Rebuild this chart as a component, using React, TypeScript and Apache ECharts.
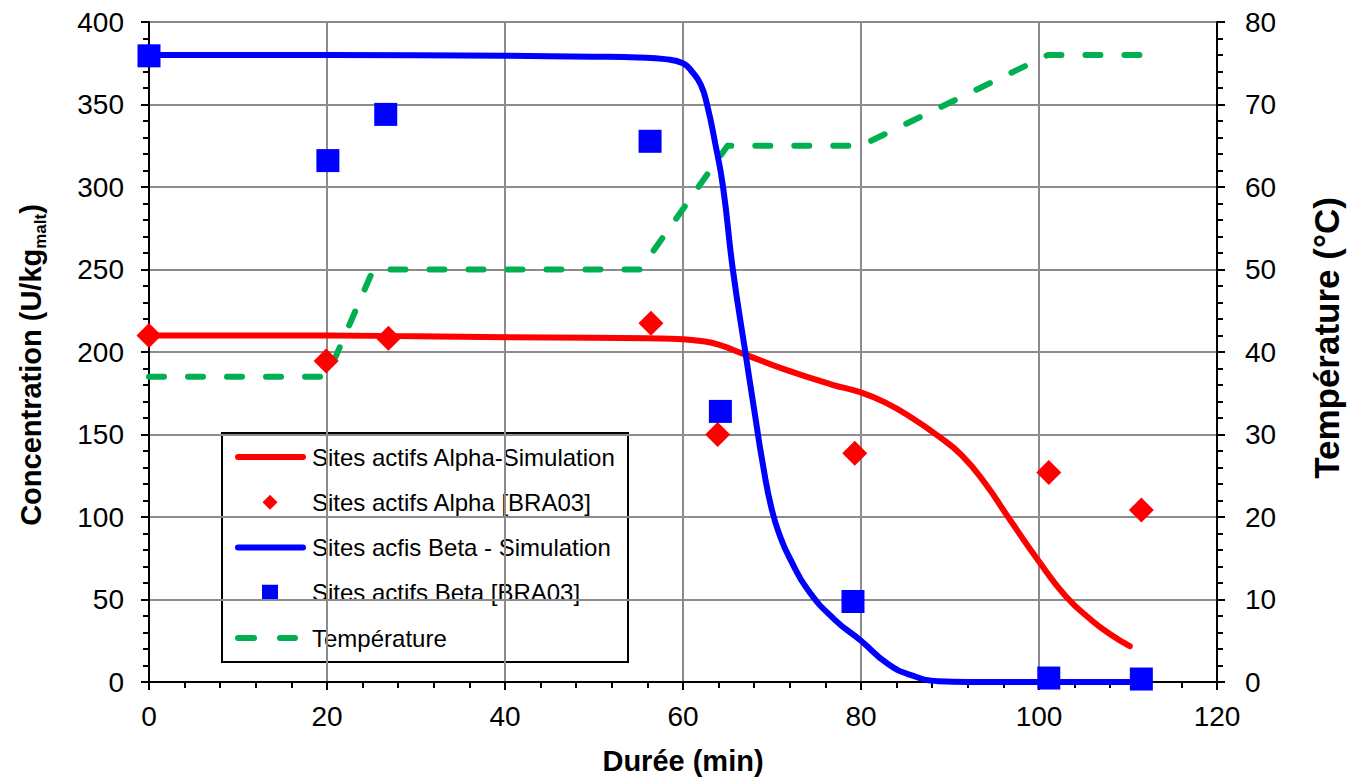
import React, { useEffect, useRef } from "react";
import * as echarts from "echarts";

// Simulation curves (time in min, concentration U/kg)
const alphaSimT = [0, 10, 20, 30, 40, 50, 56, 60, 62, 64, 67, 71.5, 76.7, 80, 82.7, 85.7, 88.7, 91.3, 94, 96.4, 100, 103, 106, 108, 110.2];
const alphaSimC = [210, 210, 210, 209.5, 209, 208.7, 208.3, 207.8, 206.7, 204.4, 198.4, 189.3, 180.3, 175.5, 169.5, 160.2, 149, 137.5, 120, 101, 73, 52, 37, 29, 21.7];

const betaSimT = [0, 20, 40, 50, 55, 58, 60, 61, 62, 62.7, 63.6, 64.5, 65.6, 67, 68, 69, 70, 71, 72, 74, 77, 80, 83, 85.7, 88.7, 92, 100, 111];
const betaSimC = [380, 380, 379.5, 379, 378.5, 377.5, 375, 370, 362, 350, 327, 300, 250, 200, 165, 131, 104, 87, 75, 56, 38, 25, 11, 4, 0.5, 0, 0, 0];

// Experimental data [BRA03]
const alphaExpT = [0, 19.9, 26.9, 56.4, 63.9, 79.3, 101.1, 111.5];
const alphaExpC = [210, 194.6, 208.4, 217.5, 150, 138.7, 127, 104.2];

const betaExpT = [0, 20.1, 26.6, 56.3, 64.2, 79.1, 101.1, 111.5];
const betaExpC = [379.5, 316, 344, 327.7, 164, 48.8, 2.4, 1.8];

// Temperature profile (°C)
const tempT = [0, 20, 25.2, 55.2, 65, 80, 101, 111.5];
const tempV = [37, 37, 50, 50, 65, 65, 76, 76];

const xTicks = { min: 0, max: 120, interval: 20 };
const yLeft = { min: 0, max: 400, interval: 50 };
const yRight = { min: 0, max: 80, interval: 10 };

const names = [
  "Sites actifs Alpha-Simulation",
  "Sites actifs Alpha [BRA03]",
  "Sites acfis Beta - Simulation",
  "Sites actifs Beta [BRA03]",
  "Température",
];

const RED = "#ff0000";
const BLUE = "#0000ff";
const GREEN = "#00b050";

const zip = (a: number[], b: number[]) => a.map((v, i) => [v, b[i]]);

const FONT = "Arial, 'Liberation Sans', sans-serif";

function legendGraphic() {
  const left = 222;
  const top = 433;
  const w = 406;
  const h = 229;
  const rowY = (i: number) => 457 + i * 45.25;
  const iconL = 238;
  const iconR = 303;
  const iconC = 270;
  const children: any[] = [
    { type: "rect", shape: { x: left, y: top, width: w, height: h }, style: { fill: "#fff", stroke: "#000", lineWidth: 2 } },
    { type: "line", shape: { x1: iconL, y1: rowY(0), x2: iconR, y2: rowY(0) }, style: { stroke: RED, lineWidth: 6, lineCap: "round" } },
    {
      type: "polygon",
      shape: { points: [[iconC, rowY(1) - 7.5], [iconC + 7.5, rowY(1)], [iconC, rowY(1) + 7.5], [iconC - 7.5, rowY(1)]] },
      style: { fill: RED },
    },
    { type: "line", shape: { x1: iconL, y1: rowY(2), x2: iconR, y2: rowY(2) }, style: { stroke: BLUE, lineWidth: 6, lineCap: "round" } },
    { type: "rect", shape: { x: iconC - 8, y: rowY(3) - 8, width: 16, height: 16 }, style: { fill: BLUE } },
    { type: "line", shape: { x1: 238, y1: rowY(4), x2: 254, y2: rowY(4) }, style: { stroke: GREEN, lineWidth: 6, lineCap: "round" } },
    { type: "line", shape: { x1: 280, y1: rowY(4), x2: 295, y2: rowY(4) }, style: { stroke: GREEN, lineWidth: 6, lineCap: "round" } },
  ];
  names.forEach((n, i) => {
    children.push({
      type: "text",
      x: 312,
      y: rowY(i),
      style: { text: n, fill: "#000", font: `24px ${FONT}`, fontSize: 24, fontFamily: FONT, verticalAlign: "middle", align: "left" },
    });
  });
  return [{ type: "group", z: 100, children }];
}

export default function App() {
  const ref = useRef<HTMLDivElement>(null);
  useEffect(() => {
    if (!ref.current) return;
    const chart = echarts.init(ref.current, undefined, { renderer: "svg" });
    const axisLineStyle = { color: "#000", width: 2 };
    const tickCommon = {
      axisLine: { show: true, onZero: false, lineStyle: axisLineStyle },
      axisTick: { show: true, inside: false, length: 8, lineStyle: { color: "#000", width: 2 } },
      minorTick: { show: true, splitNumber: 5, length: 6, lineStyle: { color: "#000", width: 2 } },
      axisLabel: { color: "#000", fontSize: 28, fontFamily: FONT },
    };
    chart.setOption({
      animation: false,
      backgroundColor: "#fff",
      textStyle: { fontFamily: FONT },
      grid: { left: 149, right: 142, top: 22, bottom: 94, containLabel: false },
      legend: { show: false },
      graphic: legendGraphic(),
      xAxis: {
        type: "value",
        ...xTicks,
        ...tickCommon,
        axisLabel: { ...tickCommon.axisLabel, margin: 20 },
        splitLine: { show: true, lineStyle: { color: "#8c8c8c", width: 2 } },
        name: "Durée (min)",
        nameLocation: "middle",
        nameGap: 64,
        nameTextStyle: { fontSize: 29, fontWeight: "bold", color: "#000", fontFamily: FONT },
      },
      yAxis: [
        {
          type: "value",
          position: "left",
          ...yLeft,
          ...tickCommon,
          axisLabel: { ...tickCommon.axisLabel, margin: 25 },
          splitLine: { show: true, lineStyle: { color: "#8c8c8c", width: 2 } },
          name: "{a|Concentration (U/kg}{b|malt}{a|)}",
          nameLocation: "middle",
          nameRotate: 90,
          nameGap: 100,
          nameTextStyle: {
            color: "#000",
            fontFamily: FONT,
            padding: [0, 26, 0, 0],
            rich: {
              a: { fontSize: 29, fontWeight: "bold", color: "#000", fontFamily: FONT, lineHeight: 36 },
              b: { fontSize: 17, fontWeight: "bold", color: "#000", fontFamily: FONT, lineHeight: 36, verticalAlign: "bottom" },
            },
          },
        },
        {
          type: "value",
          position: "right",
          ...yRight,
          ...tickCommon,
          axisLabel: { ...tickCommon.axisLabel, margin: 28 },
          splitLine: { show: false },
          name: "Température (°C)",
          nameLocation: "middle",
          nameRotate: 90,
          nameGap: 92,
          nameTextStyle: { fontSize: 35, fontWeight: "bold", color: "#000", fontFamily: FONT, padding: [0, 0, 0, 28] },
        },
      ],
      series: [
        {
          name: names[0],
          type: "line",
          data: zip(alphaSimT, alphaSimC),
          smooth: 0.5,
          showSymbol: false,
          symbol: "none",
          lineStyle: { color: RED, width: 6, cap: "round", join: "round" },
          itemStyle: { color: RED },
          z: 3,
        },
        {
          name: names[1],
          type: "scatter",
          data: zip(alphaExpT, alphaExpC),
          symbol: "diamond",
          symbolSize: 25,
          itemStyle: { color: RED, opacity: 1 },
          z: 5,
        },
        {
          name: names[2],
          type: "line",
          data: zip(betaSimT, betaSimC),
          smooth: 0.5,
          showSymbol: false,
          symbol: "none",
          lineStyle: { color: BLUE, width: 6, cap: "round", join: "round" },
          itemStyle: { color: BLUE },
          z: 4,
        },
        {
          name: names[3],
          type: "scatter",
          data: zip(betaExpT, betaExpC),
          symbol: "rect",
          symbolSize: 23,
          itemStyle: { color: BLUE, opacity: 1 },
          z: 6,
        },
        {
          name: names[4],
          type: "line",
          yAxisIndex: 1,
          data: zip(tempT, tempV),
          showSymbol: false,
          symbol: "none",
          lineStyle: { color: GREEN, width: 6, type: [15, 24], cap: "round", join: "round" },
          itemStyle: { color: GREEN },
          z: 2,
        },
      ],
    });
    return () => chart.dispose();
  }, []);
  return (
    <div
      ref={ref}
      style={{ position: "absolute", left: 0, top: 0, width: 1359, height: 780, background: "#fff" }}
    />
  );
}
